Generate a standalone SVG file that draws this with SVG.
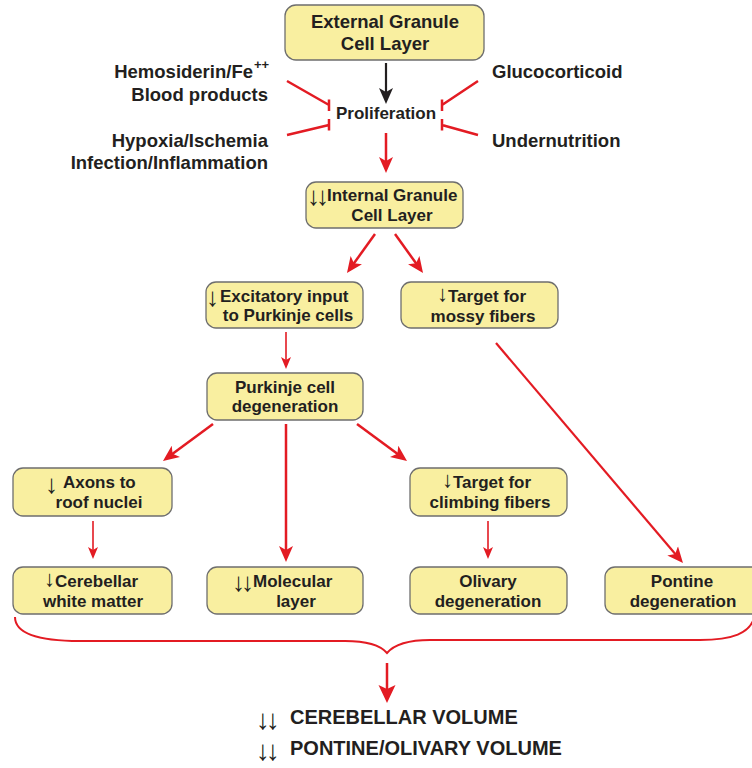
<svg xmlns="http://www.w3.org/2000/svg" width="752" height="768" viewBox="0 0 752 768">
<defs>
<style>
.box{fill:#f9efa0;stroke:#6e6e6e;stroke-width:1.3}
.t{font-family:"Liberation Sans",Arial,"DejaVu Sans",sans-serif;font-weight:bold;font-size:17px;fill:#231f20}
.a{font-family:"Liberation Sans",Arial,"DejaVu Sans",sans-serif;font-weight:bold;font-size:26px;fill:#231f20;letter-spacing:-4px}
.a2{font-size:22px;letter-spacing:-3px}
.s{font-size:18.5px}
.big{font-size:20px}
.c{text-anchor:middle}
.e{text-anchor:end}
.r{fill:none;stroke:#e31b23;stroke-width:2.5}
.rt{fill:none;stroke:#e31b23;stroke-width:1.6}
.k{fill:none;stroke:#231f20;stroke-width:2.2}
</style>
<marker id="ah" viewBox="0 0 16 16" refX="12" refY="8" markerWidth="16" markerHeight="16" markerUnits="userSpaceOnUse" orient="auto"><path d="M0,1 L16,8 L0,15 L4,8 z" fill="#e31b23"/></marker>
<marker id="ahs" viewBox="0 0 12 12" refX="9" refY="6" markerWidth="12" markerHeight="12" markerUnits="userSpaceOnUse" orient="auto"><path d="M0,1 L12,6 L0,11 L3,6 z" fill="#e31b23"/></marker>
<marker id="ahk" viewBox="0 0 16 16" refX="12" refY="8" markerWidth="16" markerHeight="16" markerUnits="userSpaceOnUse" orient="auto"><path d="M0,1 L16,8 L0,15 L4,8 z" fill="#231f20"/></marker>
<marker id="ahb" viewBox="0 0 18 18" refX="14" refY="9" markerWidth="18" markerHeight="18" markerUnits="userSpaceOnUse" orient="auto"><path d="M0,0.5 L18,9 L0,17.5 L4,9 z" fill="#e31b23"/></marker>
</defs>
<rect width="752" height="768" fill="#ffffff"/>

<g id="connectors">
<line class="k" x1="386" y1="63" x2="386" y2="100" marker-end="url(#ahk)"/>
<path class="r" d="M287,81 L329,105 M329,99.5 L329,111"/>
<path class="r" d="M287,135 L329,125 M329,119 L329,130.5"/>
<path class="r" d="M478,81 L442,105 M442,99.5 L442,111"/>
<path class="r" d="M478,135 L442,125 M442,119 L442,130.5"/>
<line class="r" x1="386" y1="133" x2="386" y2="169" marker-end="url(#ah)"/>
<line class="r" x1="375" y1="234" x2="349.3" y2="269.8" marker-end="url(#ah)"/>
<line class="r" x1="395" y1="234" x2="420.7" y2="269.8" marker-end="url(#ah)"/>
<line class="rt" x1="286" y1="332" x2="286" y2="366" marker-end="url(#ahs)"/>
<line class="r" x1="213" y1="424" x2="166.2" y2="458.6" marker-end="url(#ah)"/>
<line class="r" x1="286" y1="424" x2="286" y2="558" marker-end="url(#ah)"/>
<line class="r" x1="357" y1="424" x2="403.8" y2="458.6" marker-end="url(#ah)"/>
<line class="r" style="stroke-width:2.2" x1="496" y1="343" x2="680.4" y2="560" marker-end="url(#ah)"/>
<line class="rt" x1="93" y1="521" x2="93" y2="556" marker-end="url(#ahs)"/>
<line class="rt" x1="488" y1="521" x2="488" y2="556" marker-end="url(#ahs)"/>
<path class="r" style="stroke-width:2" d="M15,617 C15,634 38,641 80,641 L345,641 C368,641 381,646 387,653 C393,646 406,640 430,640 L700,640 C735,640 748,632 753,621"/>
<line class="r" x1="387" y1="663" x2="387" y2="699" marker-end="url(#ahb)"/>
</g>

<g id="egcl">
<rect class="box" x="285" y="5" width="199" height="55" rx="11"/>
<text class="t s c" x="385" y="28">External Granule</text>
<text class="t s c" x="385" y="50">Cell Layer</text>
</g>

<g id="inhibitors-left">
<text class="t s e" x="253" y="78">Hemosiderin/Fe</text>
<text class="t" style="font-size:13px" x="254" y="69">++</text>
<text class="t s e" x="268" y="101">Blood products</text>
<text class="t s e" x="268" y="147">Hypoxia/Ischemia</text>
<text class="t s e" x="268" y="169">Infection/Inflammation</text>
</g>

<g id="inhibitors-right">
<text class="t s" x="492" y="78">Glucocorticoid</text>
<text class="t s" x="492" y="147">Undernutrition</text>
</g>

<g id="proliferation">
<text class="t c" x="386" y="119">Proliferation</text>
</g>

<g id="igcl">
<rect class="box" x="306" y="182" width="157" height="46" rx="10"/>
<text class="a" x="307" y="205">↓↓</text>
<text class="t" x="327" y="201">Internal Granule</text>
<text class="t c" x="392" y="221">Cell Layer</text>
</g>

<g id="excitatory">
<rect class="box" x="206" y="282" width="157" height="46" rx="10"/>
<text class="a" x="206" y="306">↓</text>
<text class="t" x="220" y="302">Excitatory input</text>
<text class="t c" x="288" y="321">to Purkinje cells</text>
</g>

<g id="mossy">
<rect class="box" x="401" y="282" width="157" height="46" rx="10"/>
<text class="a a2" x="437" y="301">↓</text>
<text class="t" x="448" y="302">Target for</text>
<text class="t c" x="483" y="322">mossy fibers</text>
</g>

<g id="purkinje">
<rect class="box" x="207" y="373" width="156" height="47" rx="10"/>
<text class="t c" x="285" y="393">Purkinje cell</text>
<text class="t c" x="285" y="412">degeneration</text>
</g>

<g id="axons">
<rect class="box" x="13" y="468" width="159" height="48" rx="10"/>
<text class="a" x="45" y="493">↓</text>
<text class="t" x="63" y="488">Axons to</text>
<text class="t c" x="99" y="508">roof nuclei</text>
</g>

<g id="climbing">
<rect class="box" x="410" y="468" width="157" height="48" rx="10"/>
<text class="a a2" x="442" y="487">↓</text>
<text class="t" x="453" y="488">Target for</text>
<text class="t c" x="490" y="508">climbing fibers</text>
</g>

<g id="cerebellar">
<rect class="box" x="13" y="567" width="159" height="47" rx="10"/>
<text class="a a2" x="44" y="586">↓</text>
<text class="t" x="55" y="587">Cerebellar</text>
<text class="t c" x="93" y="607">white matter</text>
</g>

<g id="molecular">
<rect class="box" x="207" y="567" width="156" height="47" rx="10"/>
<text class="a" x="232" y="591">↓↓</text>
<text class="t" x="253" y="587">Molecular</text>
<text class="t c" x="296" y="607">layer</text>
</g>

<g id="olivary">
<rect class="box" x="410" y="567" width="157" height="47" rx="10"/>
<text class="t c" x="488" y="587">Olivary</text>
<text class="t c" x="488" y="607">degeneration</text>
</g>

<g id="pontine">
<rect class="box" x="605" y="567" width="158" height="47" rx="10"/>
<text class="t c" x="682" y="587">Pontine</text>
<text class="t c" x="683" y="607">degeneration</text>
</g>

<g id="outcome">
<text class="a" style="font-size:28px" x="256" y="729">↓↓</text>
<text class="t big" x="290" y="724">CEREBELLAR VOLUME</text>
<text class="a" style="font-size:28px" x="256" y="760">↓↓</text>
<text class="t big" x="290" y="755">PONTINE/OLIVARY VOLUME</text>
</g>
</svg>
